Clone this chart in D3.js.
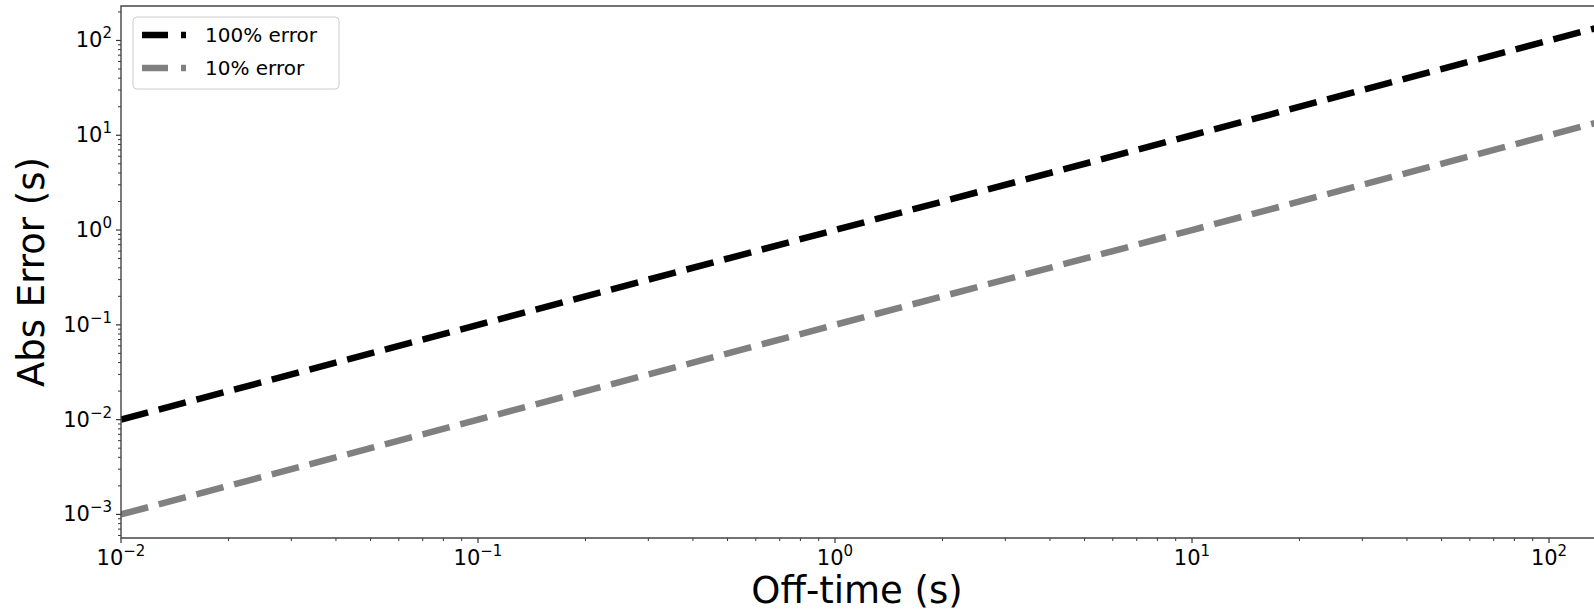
<!DOCTYPE html>
<html>
<head>
<meta charset="utf-8">
<script src="https://cdn.jsdelivr.net/npm/d3@7"></script>
<style>
  body { margin: 0; background: #fff; }
  text { font-family: "DejaVu Sans", sans-serif; fill: #000; }
</style>
</head>
<body>
<div id="chart"></div>
<script>
var svgWidth = 1594;
var svgHeight = 614;

var margin = { top: 6, right: 1, bottom: 76, left: 121 };
var width = svgWidth - margin.left - margin.right;
var height = svgHeight - margin.top - margin.bottom;

// data
var offTime = [0.01, 0.1, 1, 10, 100, 140];
var err100 = [0.01, 0.1, 1, 10, 100, 140];
var err10 = [0.001, 0.01, 0.1, 1, 10, 14];
var seriesNames = ["100% error", "10% error"];
var seriesColors = ["#000000", "#808080"];
var xTickExp = [-2, -1, 0, 1, 2];
var yTickExp = [-3, -2, -1, 0, 1, 2];

var xDomain = [0.01, 132.8];
var yDomain = [0.000564, 231];

var svg = d3.select("#chart")
  .append("svg")
  .attr("width", svgWidth)
  .attr("height", svgHeight);

var chartGroup = svg.append("g")
  .attr("transform", "translate(" + margin.left + "," + margin.top + ")");

var xScale = d3.scaleLog().domain(xDomain).range([0, width]);
var yScale = d3.scaleLog().domain(yDomain).range([height, 0]);

function minorTicks(domain) {
  var out = [];
  for (var e = -4; e <= 3; e++) {
    for (var m = 2; m <= 9; m++) {
      var v = m * Math.pow(10, e);
      if (v >= domain[0] && v <= domain[1]) out.push(v);
    }
  }
  return out;
}

chartGroup.append("defs").append("clipPath").attr("id", "clip")
  .append("rect").attr("width", width + 20).attr("height", height);

// lines
var lineGen = d3.line()
  .x(function(d) { return xScale(d[0]); })
  .y(function(d) { return yScale(d[1]); });

[err100, err10].forEach(function(vals, i) {
  var pts = offTime.map(function(t, j) { return [t, vals[j]]; });
  chartGroup.append("path")
    .datum(pts)
    .attr("clip-path", "url(#clip)")
    .attr("d", lineGen)
    .attr("fill", "none")
    .attr("stroke", seriesColors[i])
    .attr("stroke-width", 6.5)
    .attr("stroke-dasharray", "28,11");
});

// x axis ticks
var xAxisG = chartGroup.append("g").attr("transform", "translate(0," + height + ")");
xAxisG.selectAll(".minor").data(minorTicks(xDomain)).enter().append("line")
  .attr("x1", function(d) { return xScale(d); }).attr("x2", function(d) { return xScale(d); })
  .attr("y1", 0).attr("y2", 3).attr("stroke", "#333").attr("stroke-width", 1);
xAxisG.selectAll(".major").data(xTickExp).enter().append("line")
  .attr("x1", function(d) { return xScale(Math.pow(10, d)); })
  .attr("x2", function(d) { return xScale(Math.pow(10, d)); })
  .attr("y1", 0).attr("y2", 5).attr("stroke", "#333").attr("stroke-width", 1.2);
var xl = xAxisG.selectAll(".lbl").data(xTickExp).enter().append("text")
  .attr("x", function(d) { return xScale(Math.pow(10, d)); })
  .attr("y", 27)
  .attr("text-anchor", "middle")
  .style("font-size", "21px");
xl.append("tspan").text("10");
xl.append("tspan").attr("dy", -9).style("font-size", "15px")
  .text(function(d) { return d < 0 ? "\u2212" + (-d) : d; });

// y axis ticks
var yAxisG = chartGroup.append("g");
yAxisG.selectAll(".minor").data(minorTicks(yDomain)).enter().append("line")
  .attr("y1", function(d) { return yScale(d); }).attr("y2", function(d) { return yScale(d); })
  .attr("x1", 0).attr("x2", -3).attr("stroke", "#333").attr("stroke-width", 1);
yAxisG.selectAll(".major").data(yTickExp).enter().append("line")
  .attr("y1", function(d) { return yScale(Math.pow(10, d)); })
  .attr("y2", function(d) { return yScale(Math.pow(10, d)); })
  .attr("x1", 0).attr("x2", -5).attr("stroke", "#333").attr("stroke-width", 1.2);
var yl = yAxisG.selectAll(".lbl").data(yTickExp).enter().append("text")
  .attr("x", -9)
  .attr("y", function(d) { return yScale(Math.pow(10, d)) + 7; })
  .attr("text-anchor", "end")
  .style("font-size", "21px");
yl.append("tspan").text("10");
yl.append("tspan").attr("dy", -9).style("font-size", "15px")
  .text(function(d) { return d < 0 ? "\u2212" + (-d) : d; });

// spines (plot runs off the right edge, so no right spine)
chartGroup.append("path")
  .attr("d", "M" + (width + 10) + ",0H0V" + height + "H" + (width + 10))
  .attr("fill", "none").attr("stroke", "#444").attr("stroke-width", 1.4);

// axis titles
svg.append("text")
  .attr("x", margin.left + width / 2)
  .attr("y", 603)
  .attr("text-anchor", "middle")
  .style("font-size", "37px")
  .text("Off-time (s)");

svg.append("text")
  .attr("transform", "translate(44," + (margin.top + height / 2) + ") rotate(-90)")
  .attr("text-anchor", "middle")
  .style("font-size", "37px")
  .text("Abs Error (s)");

// legend
var legend = chartGroup.append("g").attr("transform", "translate(12,11)");
legend.append("rect")
  .attr("width", 206).attr("height", 72).attr("rx", 4)
  .attr("fill", "#fff").attr("fill-opacity", 0.8)
  .attr("stroke", "#ccc").attr("stroke-width", 1);
seriesNames.forEach(function(name, i) {
  var row = legend.append("g").attr("transform", "translate(0," + (18 + i * 33) + ")");
  row.append("line")
    .attr("x1", 9).attr("x2", 53).attr("y1", 0).attr("y2", 0)
    .attr("stroke", seriesColors[i]).attr("stroke-width", 6.5)
    .attr("stroke-dasharray", "26,13");
  row.append("text")
    .attr("x", 72).attr("y", 7)
    .style("font-size", "20px")
    .text(name);
});
</script>
</body>
</html>
